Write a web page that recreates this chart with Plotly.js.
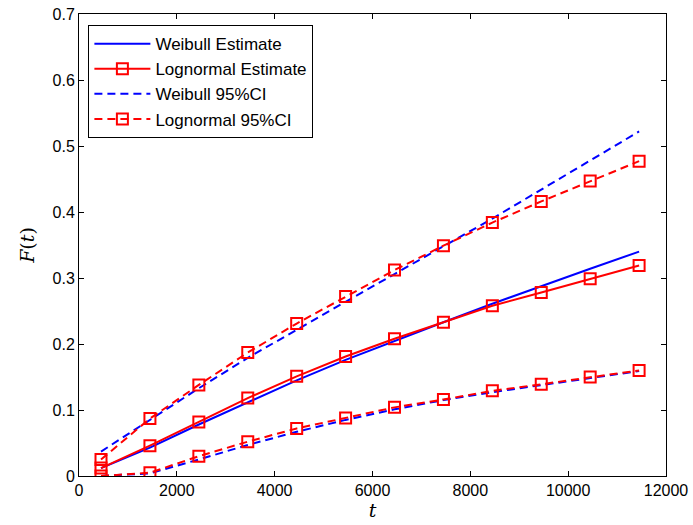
<!DOCTYPE html>
<html>
<head>
<meta charset="utf-8">
<script src="https://cdn.plot.ly/plotly-3.0.1.min.js"></script>
<style>html,body{margin:0;padding:0;background:#fff;}#chart{width:693px;height:525px;}</style>
</head>
<body>
<div id="chart"></div>
<script>
var t = [450, 1450, 2450, 3450, 4450, 5450, 6450, 7450, 8450, 9450, 10450, 11450];

var weibullEst   = [0.012, 0.043, 0.078, 0.112, 0.145, 0.176, 0.205, 0.233, 0.261, 0.288, 0.314, 0.340];
var weibullUpper = [0.037, 0.085, 0.133, 0.179, 0.222, 0.264, 0.306, 0.348, 0.390, 0.434, 0.478, 0.522];
var weibullLower = [0.000, 0.004, 0.025, 0.047, 0.067, 0.085, 0.101, 0.115, 0.127, 0.138, 0.149, 0.159];

var lognormEst   = [0.012, 0.046, 0.082, 0.118, 0.151, 0.181, 0.208, 0.233, 0.258, 0.278, 0.299, 0.319];
var lognormUpper = [0.025, 0.087, 0.138, 0.187, 0.231, 0.272, 0.312, 0.349, 0.384, 0.416, 0.447, 0.477];
var lognormLower = [0.000, 0.005, 0.030, 0.052, 0.072, 0.088, 0.104, 0.116, 0.129, 0.139, 0.150, 0.160];

var xTicks = [0, 2000, 4000, 6000, 8000, 10000, 12000];
var yTicks = [0, 0.1, 0.2, 0.3, 0.4, 0.5, 0.6, 0.7];
var yTickText = ['0', '0.1', '0.2', '0.3', '0.4', '0.5', '0.6', '0.7'];

var blue = '#0000ff', red = '#ff0000';
var dashPat = '8px,5px';
var sq = {symbol: 'square-open', size: 11, color: red, line: {width: 2, color: red}};

var traces = [
  {x: t, y: weibullEst, mode: 'lines', name: 'Weibull Estimate', line: {color: blue, width: 2}},
  {x: t, y: lognormEst, mode: 'lines+markers', name: 'Lognormal Estimate', line: {color: red, width: 2}, marker: sq},
  {x: t, y: weibullUpper, mode: 'lines', name: 'Weibull 95%CI', legendgroup: 'wci', line: {color: blue, width: 2, dash: dashPat}},
  {x: t, y: weibullLower, mode: 'lines', name: 'Weibull 95%CI', legendgroup: 'wci', showlegend: false, line: {color: blue, width: 2, dash: dashPat}},
  {x: t, y: lognormUpper, mode: 'lines+markers', name: 'Lognormal 95%CI', legendgroup: 'lci', line: {color: red, width: 2, dash: dashPat}, marker: sq},
  {x: t, y: lognormLower, mode: 'lines+markers', name: 'Lognormal 95%CI', legendgroup: 'lci', showlegend: false, line: {color: red, width: 2, dash: dashPat}, marker: sq}
];

var axisCommon = {
  showgrid: false, zeroline: false, showline: true, mirror: 'ticks',
  linecolor: '#000', linewidth: 1, ticks: 'inside', ticklen: 5, tickcolor: '#000',
  tickfont: {family: 'Liberation Sans, Arial, sans-serif', size: 16, color: '#000'}
};

var layout = {
  width: 693, height: 525,
  margin: {l: 79, r: 27, t: 14, b: 49},
  paper_bgcolor: '#fff', plot_bgcolor: '#fff',
  showlegend: true,
  legend: {
    x: 0.016, y: 0.976, xanchor: 'left', yanchor: 'top',
    bgcolor: '#fff', bordercolor: '#000', borderwidth: 1,
    font: {family: 'Liberation Sans, Arial, sans-serif', size: 17, color: '#000'},
    itemwidth: 56,
    tracegroupgap: 0
  },
  xaxis: Object.assign({}, axisCommon, {
    range: [0, 12000], tickvals: xTicks, ticktext: xTicks.map(String),
    title: {text: '<i>t</i>', font: {family: 'DejaVu Serif, serif', size: 19, color: '#000'}, standoff: 2}
  }),
  yaxis: Object.assign({}, axisCommon, {
    range: [0, 0.7], tickvals: yTicks, ticktext: yTickText,
    title: {text: '<i>F</i>(<i>t</i>)', font: {family: 'DejaVu Serif, serif', size: 19, color: '#000'}, standoff: 12}
  })
};

Plotly.newPlot('chart', traces, layout, {staticPlot: true, displayModeBar: false});
</script>
</body>
</html>
